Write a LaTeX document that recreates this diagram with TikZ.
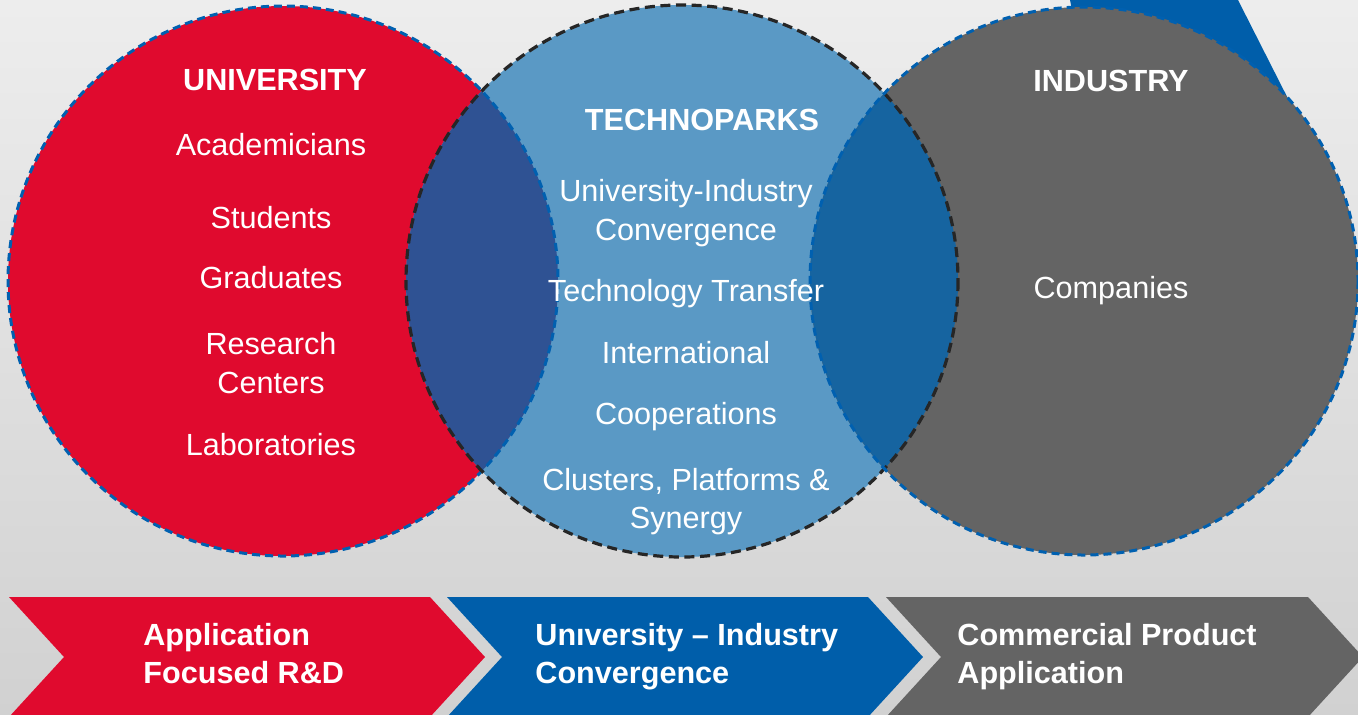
\documentclass[tikz,border=0pt]{standalone}
\usepackage{fontspec}
\setmainfont{Liberation Sans}

\definecolor{unired}{RGB}{224,10,46}
\definecolor{parkblue}{RGB}{90,153,197}
\definecolor{indgray}{RGB}{100,100,100}
\definecolor{lensleft}{RGB}{47,82,147}
\definecolor{lensright}{RGB}{22,100,160}
\definecolor{edgeblue}{RGB}{0,96,176}
\definecolor{arrowblue}{RGB}{0,94,170}

\begin{document}
\begin{tikzpicture}[x=0.5pt, y=-0.5pt,
    itemtxt/.style={text=white, inner sep=0pt, anchor=base, font=\fontsize{15.3}{19}\selectfont},
    headtxt/.style={itemtxt, font=\fontsize{15.3}{19}\selectfont\bfseries},
    chevtxt/.style={headtxt, anchor=base west},
    blueedge/.style={draw=edgeblue, line width=1.5pt, dash pattern=on 4pt off 2.5pt},
    darkedge/.style={draw=black!85, line width=1.6pt, dash pattern=on 5pt off 2.8pt}]
    \useasboundingbox (0,0) rectangle (1358,714);
    \shade[top color=black!7, bottom color=black!18] (0,0) rectangle (1358,714);

    \coordinate (uc) at (283,281);
    \coordinate (tc) at (682,281);
    \coordinate (ic) at (1084,281);

    % blue corner behind the industry circle
    \fill[arrowblue] (1070,0) -- (1238,0) -- (1314,150) -- (1100,150) -- cycle;

    \fill[unired] (uc) circle (275);
    \fill[parkblue] (tc) circle (276);
    \fill[indgray] (ic) circle (274);

    % overlaps
    \begin{scope}
      \clip (uc) circle (275);
      \fill[lensleft] (tc) circle (276);
    \end{scope}
    \begin{scope}
      \clip (ic) circle (274);
      \fill[lensright] (tc) circle (276);
    \end{scope}

    \draw[blueedge] (uc) circle (275);
    \draw[darkedge] (tc) circle (276);
    \draw[blueedge] (ic) circle (274);

    % university
    \node[headtxt] (uni) at (275,90) {UNIVERSITY};
    \node[itemtxt] (acad) at (271,155) {Academicians};
    \node[itemtxt] (stud) at (271,228) {Students};
    \node[itemtxt] (grad) at (271,288) {Graduates};
    \node[itemtxt] (res1) at (271,354) {Research};
    \node[itemtxt] (res2) at (271,393) {Centers};
    \node[itemtxt] (labs) at (271,455) {Laboratories};

    % technoparks
    \node[headtxt] (tech) at (702,130) {TECHNOPARKS};
    \node[itemtxt] (conv1) at (686,201) {University-Industry};
    \node[itemtxt] (conv2) at (686,240) {Convergence};
    \node[itemtxt] (trans) at (686,301) {Technology Transfer};
    \node[itemtxt] (intl) at (686,363) {International};
    \node[itemtxt] (coop) at (686,424) {Cooperations};
    \node[itemtxt] (clus1) at (686,490) {Clusters, Platforms \&};
    \node[itemtxt] (clus2) at (686,528) {Synergy};

    % industry
    \node[headtxt] (ind) at (1111,91) {INDUSTRY};
    \node[itemtxt] (comp) at (1111,298) {Companies};

    % chevrons
    \fill[unired] (9,597) -- (430,597) -- (485,657) -- (430,717) -- (9,717) -- (64,657) -- cycle;
    \fill[arrowblue] (447,597) -- (868,597) -- (923,657) -- (868,717) -- (447,717) -- (502,657) -- cycle;
    \fill[indgray] (886,597) -- (1308,597) -- (1363,657) -- (1308,717) -- (886,717) -- (941,657) -- cycle;

    \node[chevtxt] (rd1) at (143,645) {Application};
    \node[chevtxt] (rd2) at (143,683) {Focused R\&D};
    \node[chevtxt] (uic1) at (535,645) {Unıversity – Industry};
    \node[chevtxt] (uic2) at (535,683) {Convergence};
    \node[chevtxt] (cpa1) at (957,645) {Commercial Product};
    \node[chevtxt] (cpa2) at (957,683) {Application};
\end{tikzpicture}
\end{document}
